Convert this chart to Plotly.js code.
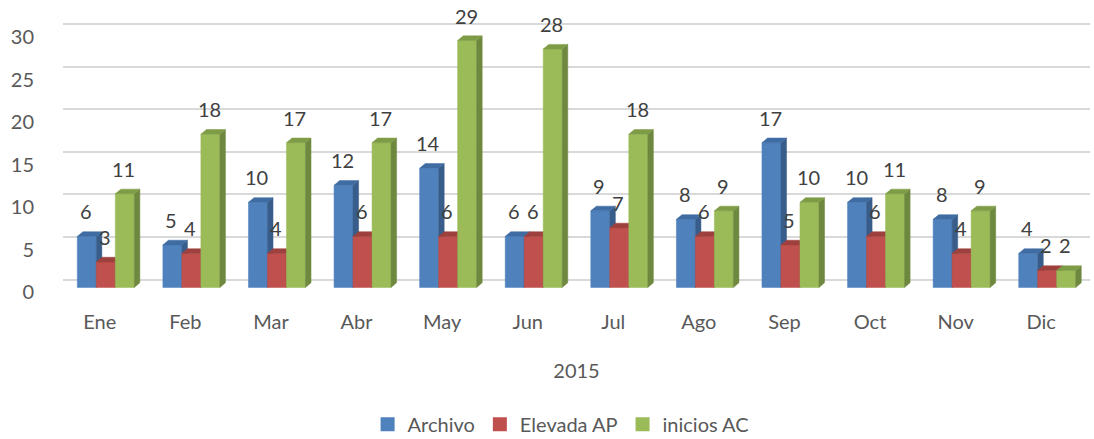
<!DOCTYPE html>
<html>
<head>
<meta charset="utf-8">
<script src="https://cdn.plot.ly/plotly-3.0.1.min.js"></script>
<style>html,body{margin:0;padding:0;background:#fff;}#chart{width:1094px;height:439px;}</style>
</head>
<body>
<div id="chart"></div>
<script>
const months = ['Ene','Feb','Mar','Abr','May','Jun','Jul','Ago','Sep','Oct','Nov','Dic'];
const archivo = [6,5,10,12,14,6,9,8,17,10,8,4];
const elevada = [3,4,4,6,6,6,7,6,5,6,4,2];
const inicios = [11,18,17,17,29,28,18,9,10,11,9,2];
const seriesNames = ['Archivo','Elevada AP','inicios AC'];
const yTicks = [0,5,10,15,20,25,30];
const axisTitle = '2015';

const FONT = 'Lato, "Open Sans", sans-serif';
const FS = 20;
const colors = [
  {front:'#4F81BD', side:'#385D8A', top:'#3F6CA3'},
  {front:'#C0504D', side:'#8C3A38', top:'#9E403D'},
  {front:'#9BBB59', side:'#6F883F', top:'#7E9C46'}
];
const BW = 0.222;           // front face width (category units)
const offsets = [-0.333, -0.111, 0.111];
const DX = 0.065, DY = 0.55; // depth of 3D bars

function polys(vals, off, kind){
  const xs=[], ys=[];
  vals.forEach((v,i)=>{
    const x0 = i+off, x1 = x0+BW;
    let px, py;
    if(kind==='front'){ px=[x0,x1,x1,x0,x0]; py=[0,0,v,v,0]; }
    else if(kind==='side'){ px=[x1,x1+DX,x1+DX,x1,x1]; py=[0,DY,v+DY,v,0]; }
    else { px=[x0,x1,x1+DX,x0+DX,x0]; py=[v,v,v+DY,v+DY,v]; }
    xs.push(...px,null); ys.push(...py,null);
  });
  return {x:xs,y:ys};
}

const data = [];
// helper traces so the grid axis and label axis are drawn (placed outside the x range)
data.push({type:'scatter', mode:'markers', x:[-9], y:[0], yaxis:'y2', showlegend:false, hoverinfo:'skip', marker:{size:1, color:'rgba(0,0,0,0)'}});
data.push({type:'scatter', mode:'markers', x:[-9], y:[0], yaxis:'y3', showlegend:false, hoverinfo:'skip', marker:{size:1, color:'rgba(0,0,0,0)'}});

const allSeries = [archivo, elevada, inicios];
allSeries.forEach((vals,s)=>{
  ['front','side','top'].forEach(kind=>{
    const p = polys(vals, offsets[s], kind);
    data.push({
      type:'scatter', mode:'lines', x:p.x, y:p.y, fill:'toself',
      fillcolor: colors[s][kind], line:{color:colors[s][kind], width:0.5},
      name: seriesNames[s], showlegend:false, legendgroup:'g'+s,
      hoverinfo:'skip', connectgaps:false
    });
  });
});
// legend entries (square swatches)
allSeries.forEach((vals,s)=>{
  data.push({type:'scatter', mode:'markers', x:[null], y:[null], name:seriesNames[s],
    marker:{symbol:'square', size:14, color:colors[s].front}, showlegend:true, hoverinfo:'skip'});
});

const annotations = [];
allSeries.forEach((vals,s)=>{
  vals.forEach((v,i)=>{
    annotations.push({
      x: i+offsets[s]+BW/2, y: v, xref:'x', yref:'y',
      text: String(v), showarrow:false, yshift:25, xshift:-1,
      font:{family:FONT, size:FS, color:'#404040'}
    });
  });
});

const layout = {
  width:1094, height:439,
  margin:{l:63, r:4, t:14.7, b:142.5, autoexpand:false},
  paper_bgcolor:'#fff', plot_bgcolor:'rgba(0,0,0,0)',
  font:{family:FONT, color:'#595959', size:FS},
  showlegend:true,
  legend:{orientation:'h', x:0.485, xanchor:'center', y:-0.456, yanchor:'middle',
          font:{family:FONT, size:FS, color:'#595959'}, traceorder:'normal', itemwidth:30},
  xaxis:{range:[-0.5,11.5], tickvals:months.map((m,i)=>i), ticktext:months,
         showgrid:false, zeroline:false, showline:false, ticks:'', automargin:false,
         ticklabelstandoff:12, ticklabelshift:-6,
         tickfont:{family:FONT, size:FS, color:'#595959'},
         title:{text:axisTitle, standoff:31, font:{family:FONT, size:FS, color:'#595959'}}},
  yaxis:{range:[-1,32], showgrid:false, zeroline:false, showticklabels:false, ticks:'', automargin:false},
  yaxis2:{overlaying:'y', range:[-1.937,31.063], tickvals:yTicks, showticklabels:false, automargin:false,
          showgrid:true, gridcolor:'#D9D9D9', gridwidth:2, zeroline:false, ticks:'', side:'left'},
  yaxis3:{overlaying:'y', range:[-0.415,32.585], tickvals:yTicks, showgrid:false, automargin:false,
          zeroline:false, ticks:'', side:'left', ticklabelstandoff:28,
          tickfont:{family:FONT, size:FS, color:'#595959'}},
  annotations: annotations
};

Plotly.newPlot('chart', data, layout, {displayModeBar:false, staticPlot:true});
</script>
</body>
</html>
